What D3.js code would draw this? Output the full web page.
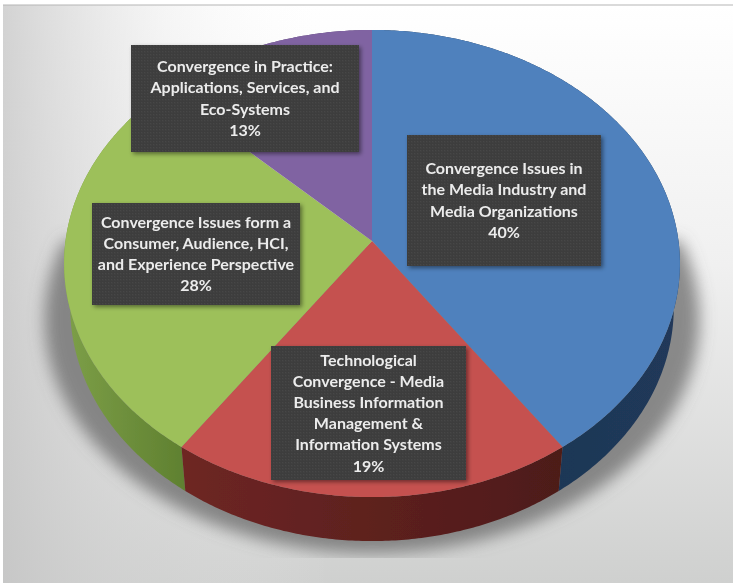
<!DOCTYPE html>
<html><head><meta charset="utf-8">
<script src="https://cdn.jsdelivr.net/npm/d3@7"></script>
<style>html,body{margin:0;padding:0;background:#fff}svg{display:block}</style>
</head><body><svg id="c" width="735" height="585"></svg>
<script>
const categories = ["Convergence Issues in the Media Industry and Media Organizations","Technological Convergence - Media Business Information Management & Information Systems","Convergence Issues form a Consumer, Audience, HCI, and Experience Perspective","Convergence in Practice: Applications, Services, and Eco-Systems"];
const shares = [40.3,19.4,27.5,12.8];
const topColors = ["#4f81bd","#c5514f","#9dc05a","#8064a2"];
const sideColorsA = ["#1c3350","#6e2624","#7d9f48","#5a4474"];
const sideColorsB = ["#20395a","#4d1b19","#5f8030","#5a4474"];
const labelLines = [
 ["Convergence Issues in","the Media Industry and","Media Organizations"],
 ["Technological","Convergence - Media","Business Information","Management &","Information Systems"],
 ["Convergence Issues form a","Consumer, Audience, HCI,","and Experience Perspective"],
 ["Convergence in Practice:","Applications, Services, and","Eco-Systems"]];
const labelBoxes = [[407,135,194,131],[271,346,195,134],[92,203,208,102],[131,45,228,107]];

const svg = d3.select("#c");
const defs = svg.append("defs");
function lg(id,x1,y1,x2,y2,stops){
  const g=defs.append("linearGradient").attr("id",id).attr("x1",x1).attr("y1",y1).attr("x2",x2).attr("y2",y2);
  stops.forEach(s=>g.append("stop").attr("offset",s[0]).attr("stop-color",s[1]).attr("stop-opacity",s[2]===undefined?1:s[2]));
}
lg("bgV",0,0,0,1,[[0,"#ffffff"],[0.45,"#f0f0f0"],[1,"#cfd0cf"]]);
lg("bgH",0,0,1,0,[[0,"#c4c4c4",0.75],[0.22,"#d8d8d8",0.25],[0.45,"#ffffff",0]]);
topColors.forEach((c,i)=>lg("side"+i,0,0,1,0,[[0,sideColorsA[i]],[1,sideColorsB[i]]]));
const blur=defs.append("filter").attr("id","soft").attr("x","-5%").attr("y","-5%").attr("width","110%").attr("height","110%");
blur.append("feGaussianBlur").attr("stdDeviation",0.45);
const sb=defs.append("filter").attr("id","sh").attr("x","-20%").attr("y","-20%").attr("width","140%").attr("height","140%");
sb.append("feGaussianBlur").attr("stdDeviation",8);
const ds=defs.append("filter").attr("id","boxShadow").attr("x","-10%").attr("y","-10%").attr("width","120%").attr("height","120%");
ds.append("feDropShadow").attr("dx",2).attr("dy",2).attr("stdDeviation",2).attr("flood-color","#000").attr("flood-opacity",0.45);
const pat=defs.append("pattern").attr("id","dots").attr("width",3).attr("height",3).attr("patternUnits","userSpaceOnUse");
pat.append("rect").attr("width",3).attr("height",3).attr("fill","#3c3c3c");
pat.append("rect").attr("width",1.5).attr("height",1.5).attr("fill","#464646");
const cp=defs.append("clipPath").attr("id","shadowClip");
cp.append("rect").attr("x",3).attr("y",5).attr("width",730).attr("height",553);

const root = svg.append("g").attr("filter","url(#soft)");
root.append("rect").attr("x",3).attr("y",5).attr("width",730).attr("height",578).attr("fill","url(#bgV)");
root.append("rect").attr("x",3).attr("y",5).attr("width",730).attr("height",578).attr("fill","url(#bgH)");
root.append("line").attr("x1",3).attr("x2",733).attr("y1",5).attr("y2",5).attr("stroke","#b5b5b5");

// perspective-projected disc
const cx=372, cy=241, R=306.5, S=231.4, k=0.0964, depth=44, shrink=0.98;
function proj(a,lower){
  const u=Math.sin(a), v=-Math.cos(a), w=1-k*v;
  const x=R*u/w*(lower?shrink:1), y=S*v/w+(lower?depth:0);
  return [cx+x,cy+y];
}
const pie=d3.pie().sort(null).value(d=>d)(shares);
const line=d3.line();
function arcPts(a0,a1,lower){
  const n=Math.max(2,Math.ceil((a1-a0)/0.01));
  return d3.range(n+1).map(i=>proj(a0+(a1-a0)*i/n,lower));
}
// ground shadow
const sg=root.append("g").attr("clip-path","url(#shadowClip)");
sg.append("path").attr("d",line(arcPts(Math.PI*0.42,Math.PI*1.58,true).map(p=>[cx+(p[0]-cx)*1.085,p[1]+12]))+"Z")
  .attr("fill","#6a6a6a").attr("fill-opacity",0.75).attr("filter","url(#sh)");

// sides
const sideOrder=[3,0,2,1];
root.append("g").selectAll("path").data(sideOrder).join("path")
  .attr("d",i=>line(arcPts(pie[i].startAngle,pie[i].endAngle,false).concat(arcPts(pie[i].startAngle,pie[i].endAngle,true).reverse()))+"Z")
  .attr("fill",i=>"url(#side"+i+")");
// top faces
root.append("g").selectAll("path").data(pie).join("path")
  .attr("d",d=>line([[cx,cy]].concat(arcPts(d.startAngle,d.endAngle,false)))+"Z")
  .attr("fill",(d,i)=>topColors[i]);

// label boxes
const fmt=d3.format(".0f");
const lab=root.append("g").selectAll("g").data(pie).join("g");
lab.append("rect")
  .attr("x",(d,i)=>labelBoxes[i][0]).attr("y",(d,i)=>labelBoxes[i][1])
  .attr("width",(d,i)=>labelBoxes[i][2]).attr("height",(d,i)=>labelBoxes[i][3])
  .attr("fill","url(#dots)").attr("filter","url(#boxShadow)");
lab.each(function(d,i){
  const b=labelBoxes[i], lines=labelLines[i].concat([fmt(d.value)+"%"]);
  const lh=21.2, mx=b[0]+b[2]/2, y0=b[1]+b[3]/2-(lines.length-1)*lh/2+5.5;
  d3.select(this).selectAll("text").data(lines).join("text")
    .attr("x",mx).attr("y",(t,j)=>y0+j*lh)
    .attr("text-anchor","middle")
    .attr("font-family","Lato, 'Open Sans', sans-serif").attr("font-weight",700).attr("font-size",16)
    .attr("fill","#ececec").text(t=>t);
});
</script></body></html>
